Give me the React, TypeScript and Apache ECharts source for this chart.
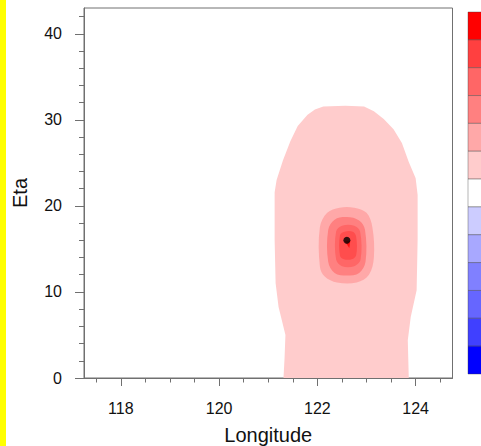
import React, { useEffect, useRef } from "react";
import * as echarts from "echarts";

// Axis ticks
const lonMajor = [118, 120, 122, 124];
const lonMinor = [117.5, 118.5, 119, 119.5, 120.5, 121, 121.5, 122.5, 123, 123.5, 124.5];
const etaMajor = [0, 10, 20, 30, 40];
const etaMinor = [2, 4, 6, 8, 12, 14, 16, 18, 22, 24, 26, 28, 32, 34, 36, 38, 42];

// Colour bar (top to bottom)
const barColors = [
  "#ff0000", "#ff4040", "#ff6666", "#ff8080", "#ffa8a8", "#ffcccc", "#ffffff",
  "#ccccff", "#a8a8ff", "#8080ff", "#6666ff", "#4040ff", "#0000ff",
];

// Filled contour outlines [lon, eta]
const level1: number[][] = [
  [121.31, 0], [121.33, 2.1], [121.35, 5.0], [121.21, 8.25], [121.15, 11.0], [121.13, 16.0],
  [121.13, 21.6], [121.17, 23.0], [121.3, 25.3], [121.45, 27.5], [121.6, 29.3], [121.8, 30.6],
  [121.95, 31.2], [122.12, 31.55], [122.57, 31.65], [122.95, 31.55], [123.15, 31.0], [123.35, 30.1],
  [123.55, 28.9], [123.72, 27.3], [123.86, 25.1], [124.0, 23.2], [124.04, 21.3], [124.04, 16.0],
  [124.02, 10.2], [123.9, 7.1], [123.84, 4.4], [123.86, 0],
];
const level2: number[][] = [
  [122.05, 13.0], [122.05, 17.5], [122.2, 19.2], [122.45, 19.8], [122.75, 19.8], [123.0, 19.2],
  [123.12, 17.5], [123.15, 14.0], [123.05, 12.0], [122.8, 11.1], [122.4, 11.1], [122.15, 11.8],
];
const level3: number[][] = [
  [122.22, 13.5], [122.22, 17.2], [122.35, 18.4], [122.6, 18.7], [122.85, 18.3], [122.97, 17.2],
  [122.98, 13.5], [122.85, 12.2], [122.6, 11.9], [122.35, 12.2],
];
const level4: number[][] = [
  [122.38, 13.8], [122.38, 17.0], [122.5, 17.7], [122.75, 17.7], [122.87, 17.0], [122.88, 13.8],
  [122.75, 13.0], [122.5, 13.0],
];
const level5: number[][] = [
  [122.46, 14.2], [122.46, 16.6], [122.55, 17.0], [122.72, 17.0], [122.79, 16.4], [122.79, 14.3],
  [122.7, 13.8], [122.54, 13.8],
];
const level6: number[][] = [[122.55, 15.95], [122.67, 15.95], [122.65, 15.1]];

const contours = [
  { pts: level1, color: "#ffcccc", smooth: 0 },
  { pts: level2, color: "#ffa8a8", smooth: 0.35 },
  { pts: level3, color: "#ff8080", smooth: 0.35 },
  { pts: level4, color: "#ff6666", smooth: 0.35 },
  { pts: level5, color: "#ff4d4d", smooth: 0.35 },
  { pts: level6, color: "#ff1010", smooth: 0 },
];

const centre = [[122.6, 16.0]];

const AX = "#707070";
const FONT = "Liberation Sans, Arial, Helvetica, sans-serif";

export default function App() {
  const ref = useRef<HTMLDivElement>(null);
  useEffect(() => {
    if (!ref.current) return;
    const chart = echarts.init(ref.current, null, { renderer: "svg" });
    const gridPos = { left: 84, right: 28.5, top: 8, bottom: 68, containLabel: false, outerBoundsMode: "none" };
    const barTop = 12;
    const barH = (374 - 12) / barColors.length;
    chart.setOption({
      animation: false,
      backgroundColor: "#ffffff",
      textStyle: { fontFamily: FONT },
      grid: [
        { ...gridPos, show: true, borderColor: AX, borderWidth: 1, backgroundColor: "transparent" },
        { ...gridPos, show: false },
      ],
      xAxis: [
        {
          type: "value", gridIndex: 0, min: 117.25, max: 124.75,
          name: "Longitude", nameLocation: "middle", nameGap: 47,
          nameTextStyle: { fontSize: 20, color: "#111", fontFamily: FONT },
          axisLine: { show: true, onZero: false, lineStyle: { color: AX, width: 1 } },
          axisTick: { show: true, inside: false, length: 8, customValues: lonMajor, lineStyle: { color: AX } },
          axisLabel: { show: true, customValues: lonMajor, margin: 22, fontSize: 16, color: "#111", fontFamily: FONT },
          splitLine: { show: false },
        },
        {
          type: "value", gridIndex: 1, min: 117.25, max: 124.75,
          axisLine: { show: false },
          axisTick: { show: true, inside: false, length: 4.5, customValues: lonMinor, lineStyle: { color: AX } },
          axisLabel: { show: false },
          splitLine: { show: false },
        },
      ],
      yAxis: [
        {
          type: "value", gridIndex: 0, min: 0, max: 43,
          name: "Eta", nameLocation: "middle", nameGap: 54,
          nameTextStyle: { fontSize: 20, color: "#111", fontFamily: FONT },
          axisLine: { show: true, onZero: false, lineStyle: { color: AX, width: 1 } },
          axisTick: { show: true, inside: false, length: 9, customValues: etaMajor, lineStyle: { color: AX } },
          axisLabel: { show: true, customValues: etaMajor, margin: 22, fontSize: 16, color: "#111", fontFamily: FONT },
          splitLine: { show: false },
        },
        {
          type: "value", gridIndex: 1, min: 0, max: 43,
          axisLine: { show: false },
          axisTick: { show: true, inside: false, length: 5, customValues: etaMinor, lineStyle: { color: AX } },
          axisLabel: { show: false },
          splitLine: { show: false },
        },
      ],
      series: [
        {
          type: "custom",
          coordinateSystem: "cartesian2d",
          xAxisIndex: 0,
          yAxisIndex: 0,
          clip: true,
          data: contours.map((c, i) => [c.pts[0][0], c.pts[0][1], i]),
          renderItem: (params: any, api: any) => {
            const c = contours[params.dataIndex];
            return {
              type: "polygon",
              shape: { points: c.pts.map((p) => api.coord(p)), smooth: c.smooth },
              style: { fill: c.color, stroke: "none" },
              silent: true,
            };
          },
          z: 1,
        },
        {
          type: "scatter",
          xAxisIndex: 0,
          yAxisIndex: 0,
          data: centre,
          symbol: "circle",
          symbolSize: 7,
          itemStyle: { color: "#000000" },
          z: 5,
        },
      ],
      graphic: [
        { type: "rect", left: 0, top: 0, shape: { x: 0, y: 0, width: 6, height: 446 }, style: { fill: "#ffff00" }, silent: true },
        ...barColors.map((col, i) => ({
          type: "rect",
          shape: { x: 468, y: barTop + i * barH, width: 20, height: barH },
          style: { fill: col, stroke: "rgba(60,60,60,0.55)", lineWidth: 0.7 },
          silent: true,
        })),
      ],
    });
    return () => chart.dispose();
  }, []);
  return (
    <div
      ref={ref}
      style={{ position: "absolute", left: 0, top: 0, width: 481, height: 446, background: "#fff" }}
    />
  );
}
